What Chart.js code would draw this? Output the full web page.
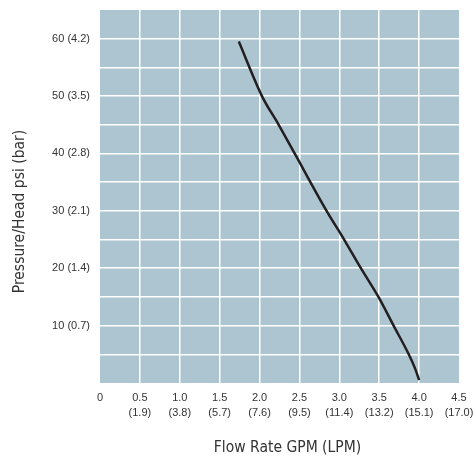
<!DOCTYPE html>
<html>
<head>
<meta charset="utf-8">
<script src="https://cdn.jsdelivr.net/npm/chart.js@4/dist/chart.umd.min.js"></script>
<style>
  html, body { margin: 0; padding: 0; background: #ffffff; }
  #wrap { width: 476px; height: 463px; position: relative; }
</style>
</head>
<body>
<div id="wrap"><canvas id="c" width="476" height="463"></canvas></div>
<script>
// ---- data ----
const flowGpm     = [1.74, 2.03, 2.24, 2.44, 2.84, 3.06, 3.27, 3.49, 3.68, 3.87, 3.95, 4.0];
const pressurePsi = [59.5, 50,   45,   40,   30,   25,   20,   15,   10,   5,    2.5,  0.5];

const xTickGpm = ['0', '0.5', '1.0', '1.5', '2.0', '2.5', '3.0', '3.5', '4.0', '4.5'];
const xTickLpm = ['', '(1.9)', '(3.8)', '(5.7)', '(7.6)', '(9.5)', '(11.4)', '(13.2)', '(15.1)', '(17.0)'];
const yTickPsi = [10, 20, 30, 40, 50, 60];
const yTickBar = ['(0.7)', '(1.4)', '(2.1)', '(2.8)', '(3.5)', '(4.2)'];

const xTitle = 'Flow Rate GPM (LPM)';
const yTitle = 'Pressure/Head psi (bar)';

const plotBg = '#adc5d1';
const textColor = '#333333';

const bgPlugin = {
  id: 'plotBg',
  beforeDraw(chart) {
    const { ctx, chartArea: a } = chart;
    ctx.save();
    ctx.fillStyle = plotBg;
    ctx.fillRect(a.left, a.top, a.right - a.left, a.bottom - a.top);
    ctx.restore();
  }
};

const titlePlugin = {
  id: 'axisTitles',
  afterDraw(chart) {
    const { ctx, chartArea: a } = chart;
    ctx.save();
    ctx.fillStyle = textColor;
    ctx.font = '15.5px "DejaVu Sans Condensed", "DejaVu Sans", sans-serif';
    ctx.textAlign = 'center';
    ctx.textBaseline = 'middle';
    ctx.fillText(xTitle, (a.left + a.right) / 2 + 8, 448);
    ctx.translate(20, (a.top + a.bottom) / 2 + 15);
    ctx.rotate(-Math.PI / 2);
    ctx.fillText(yTitle, 0, 0);
    ctx.restore();
  }
};

function zeroPad(s) { s.paddingLeft = 0; s.paddingRight = 0; s.paddingTop = 0; s.paddingBottom = 0; }

new Chart(document.getElementById('c'), {
  type: 'line',
  data: {
    datasets: [{
      data: flowGpm.map((x, i) => ({ x: x, y: pressurePsi[i] })),
      borderColor: '#231f20',
      borderWidth: 2.5,
      pointRadius: 0,
      cubicInterpolationMode: 'monotone',
      fill: false
    }]
  },
  plugins: [bgPlugin, titlePlugin],
  options: {
    responsive: false,
    animation: false,
    devicePixelRatio: 1,
    layout: { padding: { top: 10, right: 17, left: 0, bottom: 0 } },
    plugins: { legend: { display: false }, tooltip: { enabled: false } },
    scales: {
      x: {
        type: 'linear',
        min: 0, max: 4.5,
        afterFit(s) { s.height = 80; zeroPad(s); },
        border: { display: false },
        grid: {
          drawTicks: false,
          lineWidth: 1.5,
          color: (c) => (c.tick && (c.tick.value === 0 || c.tick.value === 4.5)) ? 'rgba(0,0,0,0)' : '#ffffff'
        },
        ticks: {
          stepSize: 0.5,
          padding: 8,
          maxRotation: 0,
          autoSkip: false,
          color: textColor,
          font: { family: '"Liberation Sans", Arial, sans-serif', size: 11, lineHeight: 1.35 },
          callback: (v) => {
            const i = Math.round(v / 0.5);
            return xTickLpm[i] ? [xTickGpm[i], xTickLpm[i]] : xTickGpm[i];
          }
        }
      },
      y: {
        min: 0, max: 65,
        afterFit(s) { s.width = 100; zeroPad(s); },
        border: { display: false },
        grid: {
          drawTicks: false,
          lineWidth: 1.5,
          color: (c) => (c.tick && (c.tick.value === 0 || c.tick.value === 65)) ? 'rgba(0,0,0,0)' : '#ffffff'
        },
        ticks: {
          stepSize: 5,
          padding: 10,
          autoSkip: false,
          color: textColor,
          font: { family: '"Liberation Sans", Arial, sans-serif', size: 11 },
          callback: (v) => {
            const i = yTickPsi.indexOf(v);
            return i >= 0 ? yTickPsi[i] + ' ' + yTickBar[i] : '';
          }
        }
      }
    }
  }
});
</script>
</body>
</html>
